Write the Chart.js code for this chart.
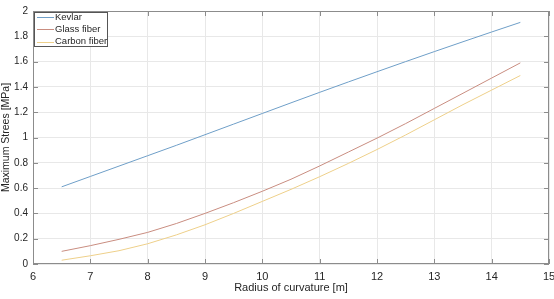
<!DOCTYPE html>
<html>
<head>
<meta charset="utf-8">
<script src="https://cdn.jsdelivr.net/npm/chart.js@4/dist/chart.umd.min.js"></script>
<style>
    html, body { margin: 0; padding: 0; background: #ffffff; }
    #wrap { width: 554px; height: 299px; position: relative; }
</style>
</head>
<body>
<div id="wrap"><canvas id="chartEsfuerzo"></canvas></div>
<script>
// Datos
const radios = [6.5, 7, 7.5, 8, 8.5, 9, 9.5, 10, 10.5, 11, 11.5, 12, 12.5, 13, 13.5, 14, 14.5];
const kevlar = [0.610, 0.692, 0.774, 0.856, 0.938, 1.022, 1.106, 1.190, 1.274, 1.357, 1.439, 1.520, 1.600, 1.679, 1.757, 1.834, 1.910];
const glassFiber = [0.10, 0.145, 0.195, 0.25, 0.32, 0.40, 0.485, 0.575, 0.67, 0.775, 0.885, 0.995, 1.11, 1.23, 1.35, 1.47, 1.59];
const carbonFiber = [0.03, 0.065, 0.105, 0.16, 0.23, 0.31, 0.40, 0.495, 0.59, 0.69, 0.795, 0.905, 1.02, 1.14, 1.26, 1.375, 1.49];
const seriesNames = ['Kevlar', 'Glass fiber', 'Carbon fiber'];
const xTicks = [6, 7, 8, 9, 10, 11, 12, 13, 14, 15];
const yTicks = [0, 0.2, 0.4, 0.6, 0.8, 1, 1.2, 1.4, 1.6, 1.8, 2];

const colores = ['#6f9fc8', '#c98d80', '#eed08a'];
const fuente = "'Liberation Sans', Arial, sans-serif";

function puntos(valores) {
    return radios.map((r, i) => ({ x: r, y: valores[i] }));
}

// Caja, marcas interiores y leyenda estilo MATLAB
const cajaPlugin = {
    id: 'caja',
    afterDatasetsDraw(chart) {
        const ctx = chart.ctx;
        const a = chart.chartArea;
        const xs = chart.scales.x;
        const ys = chart.scales.y;
        ctx.save();
        ctx.strokeStyle = '#8c8c8c';
        ctx.lineWidth = 1;
        ctx.strokeRect(a.left + 0.5, a.top + 0.5, a.right - a.left - 1, a.bottom - a.top - 1);
        ctx.beginPath();
        xTicks.forEach(v => {
            const px = Math.round(xs.getPixelForValue(v)) + 0.5;
            ctx.moveTo(px, a.bottom); ctx.lineTo(px, a.bottom - 5);
            ctx.moveTo(px, a.top); ctx.lineTo(px, a.top + 5);
        });
        yTicks.forEach(v => {
            const py = Math.round(ys.getPixelForValue(v)) + 0.5;
            ctx.moveTo(a.left, py); ctx.lineTo(a.left + 5, py);
            ctx.moveTo(a.right, py); ctx.lineTo(a.right - 5, py);
        });
        ctx.stroke();

        // Leyenda
        const lx = a.left + 1, ly = a.top + 1, lw = 73, lh = 34;
        ctx.fillStyle = '#ffffff';
        ctx.fillRect(lx, ly, lw, lh);
        ctx.strokeStyle = '#555555';
        ctx.strokeRect(lx + 0.5, ly + 0.5, lw, lh);
        ctx.font = '9.5px ' + fuente;
        ctx.textAlign = 'left';
        ctx.textBaseline = 'middle';
        chart.data.datasets.forEach((ds, i) => {
            const yy = ly + 5 + i * 12.3;
            ctx.strokeStyle = ds.borderColor;
            ctx.beginPath();
            ctx.moveTo(lx + 3, Math.round(yy) + 0.5);
            ctx.lineTo(lx + 20, Math.round(yy) + 0.5);
            ctx.stroke();
            ctx.fillStyle = '#262626';
            ctx.fillText(ds.label, lx + 21, yy);
        });
        ctx.restore();
    }
};

const ctxEsfuerzo = document.getElementById('chartEsfuerzo');
new Chart(ctxEsfuerzo, {
    type: 'line',
    data: {
        datasets: [
            { label: seriesNames[0], data: puntos(kevlar), borderColor: colores[0] },
            { label: seriesNames[1], data: puntos(glassFiber), borderColor: colores[1] },
            { label: seriesNames[2], data: puntos(carbonFiber), borderColor: colores[2] }
        ]
    },
    options: {
        responsive: true,
        maintainAspectRatio: false,
        animation: false,
        layout: { padding: { left: 0, right: 5, top: 10, bottom: 0 } },
        elements: {
            line: { borderWidth: 1, tension: 0 },
            point: { radius: 0 }
        },
        plugins: {
            legend: { display: false },
            tooltip: { enabled: false }
        },
        scales: {
            x: {
                type: 'linear',
                min: 6,
                max: 15,
                afterBuildTicks: s => { s.ticks = xTicks.map(v => ({ value: v })); },
                afterFit: s => { s.height = 35; s.paddingLeft = 0; s.paddingRight = 0; },
                grid: { color: '#e8e8e8', drawTicks: false },
                border: { display: false },
                ticks: { font: { family: fuente, size: 11 }, color: '#262626', padding: 6, maxRotation: 0, autoSkip: false },
                title: { display: true, text: 'Radius of curvature [m]', font: { family: fuente, size: 11 }, color: '#262626', padding: { top: 2 } }
            },
            y: {
                min: 0,
                max: 2,
                afterBuildTicks: s => { s.ticks = yTicks.map(v => ({ value: v })); },
                afterFit: s => { s.width = 33; },
                grid: { color: '#e8e8e8', drawTicks: false },
                border: { display: false },
                ticks: {
                    font: { family: fuente, size: 10 },
                    color: '#262626',
                    padding: 5,
                    autoSkip: false,
                    callback: v => String(v)
                },
                title: { display: true, text: 'Maximum Strees [MPa]', font: { family: fuente, size: 10.5 }, color: '#262626', padding: { top: 0, bottom: 0 } }
            }
        }
    },
    plugins: [cajaPlugin]
});
</script>
</body>
</html>
